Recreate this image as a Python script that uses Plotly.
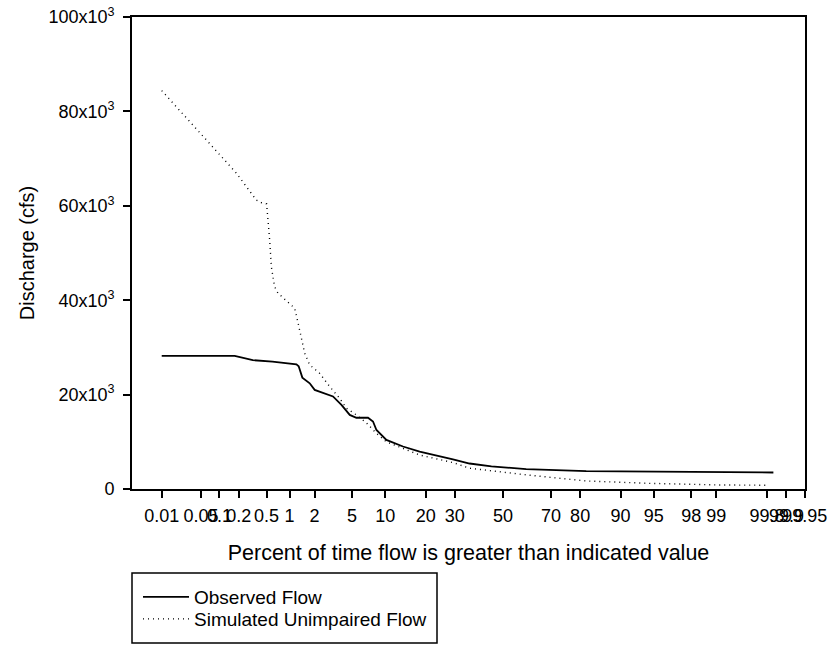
import plotly.graph_objects as go
from statistics import NormalDist

# ---- data (percent of time exceeded, discharge in cfs) ----
obs_pct = [0.01, 0.173, 0.32, 0.6, 1.22, 1.30, 1.44, 1.76, 2.01, 2.49, 3.2, 3.92, 4.75,
           5.51, 7.07, 7.84, 8.4, 10.2, 13.8, 18.2, 24, 29.3, 35.8, 45, 60, 70, 81.8,
           90, 94.5, 99.09, 99.1, 99.84]
obs_q = [28200, 28200, 27300, 27000, 26400, 26000, 23600, 22400, 21000, 20300, 19600,
         17800, 15700, 15100, 15100, 14300, 12500, 10400, 9000, 7900, 7100, 6300, 5400,
         4800, 4200, 4000, 3800, 3750, 3700, 3600, 3500, 3500]

sim_pct = [0.01, 0.042, 0.184, 0.36, 0.42, 0.50, 0.51, 0.55, 0.58, 0.64, 0.71, 1.06,
           1.16, 1.28, 1.40, 1.54, 1.76, 2.29, 2.95, 3.76, 4.40, 5.51, 6.84, 8.4, 10.2,
           13.8, 18.2, 29.3, 35.8, 60, 81.8, 94.5, 99.09, 99.81]
sim_q = [84400, 76200, 66900, 61200, 60700, 60400, 59100, 52800, 47100, 42900, 41500,
         39000, 38300, 35100, 32300, 28700, 26300, 24500, 21700, 19200, 17100, 15700,
         14000, 11800, 10000, 8600, 7200, 5600, 4400, 3000, 1700, 1200, 850, 800]

x_ticks = [0.01, 0.05, 0.1, 0.2, 0.5, 1, 2, 5, 10, 20, 30, 50, 70, 80, 90, 95, 98, 99,
           99.8, 99.9, 99.95]
x_tick_labels = ["0.01", "0.05", "0.1", "0.2", "0.5", "1", "2", "5", "10", "20", "30",
                 "50", "70", "80", "90", "95", "98", "99", "99.8", "99.9", "99.95"]
y_ticks = [0, 20000, 40000, 60000, 80000, 100000]
y_tick_labels = ["0", "20x10<sup>3</sup>", "40x10<sup>3</sup>", "60x10<sup>3</sup>",
                 "80x10<sup>3</sup>", "100x10<sup>3</sup>"]

nd = NormalDist()
def z(p):
    return nd.inv_cdf(p / 100.0)

FONT = "Arial, Liberation Sans, sans-serif"

fig = go.Figure()
fig.add_trace(go.Scatter(x=[z(p) for p in obs_pct], y=obs_q, mode="lines",
                         name="Observed Flow", legend="legend",
                         line=dict(color="black", width=1.8)))
fig.add_trace(go.Scatter(x=[z(p) for p in sim_pct], y=sim_q, mode="lines",
                         name="Simulated Unimpaired Flow", legend="legend2",
                         line=dict(color="black", width=1.4, dash="1px,4px")))

W, H = 832, 646
L, R, T, B = 132, 27, 17, 157
pw = W - L - R
ph = H - T - B

leg_common = dict(x=(138 - L) / pw, xanchor="left", yanchor="middle",
                  bgcolor="rgba(0,0,0,0)", borderwidth=0,
                  font=dict(family=FONT, size=19, color="black"), itemwidth=46)

fig.update_layout(
    width=W, height=H,
    margin=dict(l=L, r=R, t=T, b=B, autoexpand=False),
    paper_bgcolor="white", plot_bgcolor="white",
    font=dict(family=FONT, size=18, color="black"),
    showlegend=True,
    legend=dict(y=(489 - 597) / ph, **leg_common),
    legend2=dict(y=(489 - 619) / ph, **leg_common),
    xaxis=dict(range=[-4.043, 3.2925], tickmode="array", automargin=False,
               tickvals=[z(p) for p in x_ticks], ticktext=x_tick_labels,
               tickangle=0, ticks="outside", ticklen=7, tickwidth=1.5, tickcolor="black",
               showline=True, linecolor="black", linewidth=1.8, mirror=True,
               showgrid=False, zeroline=False, ticklabelstandoff=2,
               tickfont=dict(size=18),
               title=dict(text="Percent of time flow is greater than indicated value",
                          font=dict(size=21.5), standoff=20)),
    yaxis=dict(range=[0, 100000], tickmode="array", tickvals=y_ticks, automargin=False,
               ticktext=y_tick_labels, ticks="outside", ticklen=7, tickwidth=1.5,
               tickcolor="black", showline=True, linecolor="black", linewidth=1.8,
               mirror=True, showgrid=False, zeroline=False, ticklabelstandoff=5,
               tickfont=dict(size=18),
               title=dict(text="Discharge (cfs)", font=dict(size=20), standoff=8)),
    shapes=[
        # short extensions of the frame lines to the left of the y axis
        dict(type="line", xref="paper", yref="paper", x0=-8 / pw, x1=0, y0=0, y1=0,
             line=dict(color="black", width=1.8)),
        dict(type="line", xref="paper", yref="paper", x0=-8 / pw, x1=0, y0=1, y1=1,
             line=dict(color="black", width=1.8)),
        # legend frame
        dict(type="rect", xref="paper", yref="paper", x0=0, x1=(437 - L) / pw,
             y0=(489 - 643) / ph, y1=(489 - 573) / ph,
             line=dict(color="black", width=1.5)),
    ],
)

fig.write_html("out.html")
